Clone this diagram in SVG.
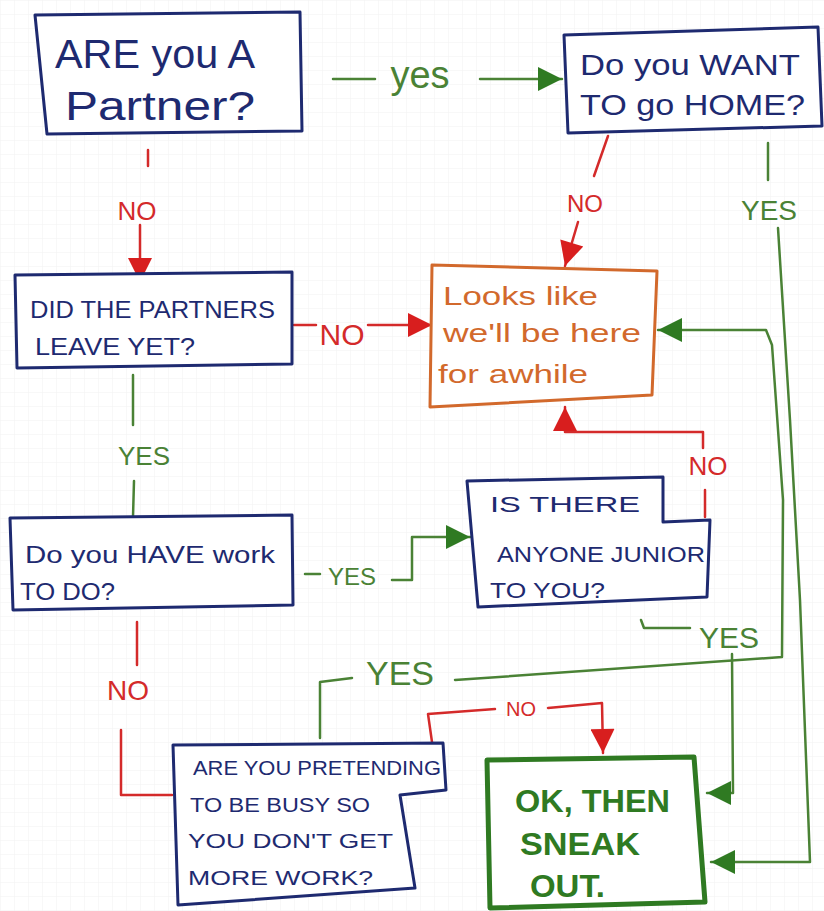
<svg xmlns="http://www.w3.org/2000/svg" width="824" height="911" viewBox="0 0 824 911">
<style>
.bg{fill:#ffffff}
.grid{fill:none;stroke:#f1f1f1;stroke-width:1}
.blue{fill:#ffffff;stroke:#1e2a70;stroke-width:3;stroke-linejoin:round}
.orange{fill:#ffffff;stroke:#d2692c;stroke-width:3;stroke-linejoin:round}
.okbox{fill:#ffffff;stroke:#2f7a22;stroke-width:5;stroke-linejoin:round}
.tb{font-family:"Liberation Sans",Arial,sans-serif;fill:#1e2a70}
.to{font-family:"Liberation Sans",Arial,sans-serif;fill:#d2692c}
.tg{font-family:"Liberation Sans",Arial,sans-serif;fill:#2f7a22;font-weight:bold}
.r{fill:none;stroke:#d42a2a;stroke-width:2.5;stroke-linecap:round;stroke-linejoin:round}
.g{fill:none;stroke:#4a8235;stroke-width:2.5;stroke-linecap:round;stroke-linejoin:round}
.lr{font-family:"Liberation Sans",Arial,sans-serif;fill:#d42a2a;text-anchor:middle}
.lg{font-family:"Liberation Sans",Arial,sans-serif;fill:#4a8235;text-anchor:middle}
</style>
<defs>
<pattern id="gp" width="14" height="14" patternUnits="userSpaceOnUse">
<path d="M14,0 L0,0 L0,14" class="grid"/>
</pattern>
<marker id="ar" viewBox="0 0 10 10" refX="10" refY="5" markerWidth="26" markerHeight="24" markerUnits="userSpaceOnUse" orient="auto">
<path d="M0,0 L10,5 L0,10 Z" fill="#d81e1e"/>
</marker>
<marker id="ag" viewBox="0 0 10 10" refX="10" refY="5" markerWidth="26" markerHeight="24" markerUnits="userSpaceOnUse" orient="auto">
<path d="M0,0 L10,5 L0,10 Z" fill="#2f7a22"/>
</marker>
</defs>
<rect class="bg" x="0" y="0" width="824" height="911"/>
<rect x="0" y="0" width="824" height="911" fill="url(#gp)"/>

<g id="connectors">
<!-- Partner yes -> want to go home -->
<path class="g" d="M333,79 L375,79"/>
<path class="g" d="M480,79 L562,79" marker-end="url(#ag)"/>
<text class="lg" x="420" y="88" font-size="38">yes</text>
<!-- Partner no -> partners left -->
<path class="r" d="M148,150 L148,166"/>
<path class="r" d="M140,225 L140,282" marker-end="url(#ar)"/>
<text class="lr" x="137" y="220" font-size="26">NO</text>
<!-- Want home no -> looks like -->
<path class="r" d="M608,136 L594,176"/>
<path class="r" d="M578,222 L565,266" marker-end="url(#ar)"/>
<text class="lr" x="585" y="212" font-size="24">NO</text>
<!-- Want home yes -> sneak out -->
<path class="g" d="M768,143 L768,180"/>
<path class="g" d="M778,228 L790,420 L800,600 L810,862 L711,862" marker-end="url(#ag)"/>
<text class="lg" x="769" y="220" font-size="28">YES</text>
<!-- partners left no -> looks like -->
<path class="r" d="M294,325 L316,325"/>
<path class="r" d="M368,325 L432,325" marker-end="url(#ar)"/>
<text class="lr" x="342" y="345" font-size="30">NO</text>
<!-- partners left yes -> have work -->
<path class="g" d="M133,375 L133,425"/>
<path class="g" d="M134,481 L133,517"/>
<text class="lg" x="144" y="465" font-size="26">YES</text>
<!-- have work yes -> junior -->
<path class="g" d="M305,574 L320,574"/>
<path class="g" d="M392,580 L412,580 L412,537 L470,537" marker-end="url(#ag)"/>
<text class="lg" x="352" y="585" font-size="24">YES</text>
<!-- junior no -> looks like -->
<path class="r" d="M705,517 L705,490"/>
<path class="r" d="M703,448 L703,432 L565,432 L565,407" marker-end="url(#ar)"/>
<text class="lr" x="708" y="475" font-size="26">NO</text>
<!-- junior yes -> sneak out -->
<path class="g" d="M641,620 L644,628 L690,628"/>
<path class="g" d="M732,654 L733,793 L707,793" marker-end="url(#ag)"/>
<text class="lg" x="729" y="648" font-size="30">YES</text>
<!-- have work no -> pretending -->
<path class="r" d="M137,622 L137,665"/>
<path class="r" d="M121,730 L121,795 L172,795"/>
<text class="lr" x="128" y="700" font-size="28">NO</text>
<!-- pretending yes -> looks like -->
<path class="g" d="M320,738 L320,682 L352,678"/>
<path class="g" d="M455,680 L782,657 L783,500 L772,345 L766,330 L658,330" marker-end="url(#ag)"/>
<text class="lg" x="400" y="685" font-size="34">YES</text>
<!-- pretending no -> sneak out -->
<path class="r" d="M432,742 L428,714 L495,709"/>
<path class="r" d="M548,708 L602,703 L603,753" marker-end="url(#ar)"/>
<text class="lr" x="521" y="716" font-size="20">NO</text>
</g>

<g id="node-partner">
<path class="blue" d="M35,15 L300,12 L302,131 L47,134 Z"/>
<text class="tb" x="55" y="68" font-size="40" textLength="200" lengthAdjust="spacingAndGlyphs">ARE you A</text>
<text class="tb" x="65" y="120" font-size="40" textLength="190" lengthAdjust="spacingAndGlyphs">Partner?</text>
</g>

<g id="node-gohome">
<path class="blue" d="M564,35 L818,27 L822,126 L568,133 Z"/>
<text class="tb" x="580" y="75" font-size="30" textLength="220" lengthAdjust="spacingAndGlyphs">Do you WANT</text>
<text class="tb" x="580" y="115" font-size="30" textLength="225" lengthAdjust="spacingAndGlyphs">TO go HOME?</text>
</g>

<g id="node-partnersleft">
<path class="blue" d="M15,275 L292,272 L292,364 L17,368 Z"/>
<text class="tb" x="30" y="318" font-size="24" textLength="245" lengthAdjust="spacingAndGlyphs">DID THE PARTNERS</text>
<text class="tb" x="35" y="355" font-size="24" textLength="160" lengthAdjust="spacingAndGlyphs">LEAVE YET?</text>
</g>

<g id="node-awhile">
<path class="orange" d="M432,265 L657,271 L652,395 L430,407 Z"/>
<text class="to" x="443" y="305" font-size="26" textLength="155" lengthAdjust="spacingAndGlyphs">Looks like</text>
<text class="to" x="443" y="342" font-size="26" textLength="198" lengthAdjust="spacingAndGlyphs">we'll be here</text>
<text class="to" x="438" y="383" font-size="26" textLength="150" lengthAdjust="spacingAndGlyphs">for awhile</text>
</g>

<g id="node-havework">
<path class="blue" d="M10,518 L292,515 L293,605 L13,610 Z"/>
<text class="tb" x="25" y="563" font-size="24" textLength="250" lengthAdjust="spacingAndGlyphs">Do you HAVE work</text>
<text class="tb" x="20" y="600" font-size="24" textLength="95" lengthAdjust="spacingAndGlyphs">TO DO?</text>
</g>

<g id="node-junior">
<path class="blue" d="M467,481 L663,477 L663,522 L710,520 L707,597 L478,607 Z"/>
<text class="tb" x="490" y="512" font-size="22" textLength="150" lengthAdjust="spacingAndGlyphs">IS THERE</text>
<text class="tb" x="497" y="562" font-size="22" textLength="208" lengthAdjust="spacingAndGlyphs">ANYONE JUNIOR</text>
<text class="tb" x="490" y="598" font-size="22" textLength="115" lengthAdjust="spacingAndGlyphs">TO YOU?</text>
</g>

<g id="node-pretending">
<path class="blue" d="M173,745 L443,743 L446,790 L400,795 L415,888 L178,905 Z"/>
<text class="tb" x="193" y="775" font-size="20" textLength="248" lengthAdjust="spacingAndGlyphs">ARE YOU PRETENDING</text>
<text class="tb" x="190" y="812" font-size="20" textLength="180" lengthAdjust="spacingAndGlyphs">TO BE BUSY SO</text>
<text class="tb" x="188" y="848" font-size="20" textLength="205" lengthAdjust="spacingAndGlyphs">YOU DON'T GET</text>
<text class="tb" x="188" y="885" font-size="20" textLength="185" lengthAdjust="spacingAndGlyphs">MORE WORK?</text>
</g>

<g id="node-sneakout">
<path class="okbox" d="M487,760 L694,757 L705,902 L490,908 Z"/>
<text class="tg" x="515" y="812" font-size="32" textLength="155" lengthAdjust="spacingAndGlyphs">OK, THEN</text>
<text class="tg" x="520" y="855" font-size="32" textLength="120" lengthAdjust="spacingAndGlyphs">SNEAK</text>
<text class="tg" x="530" y="897" font-size="32" textLength="75" lengthAdjust="spacingAndGlyphs">OUT.</text>
</g>
</svg>
